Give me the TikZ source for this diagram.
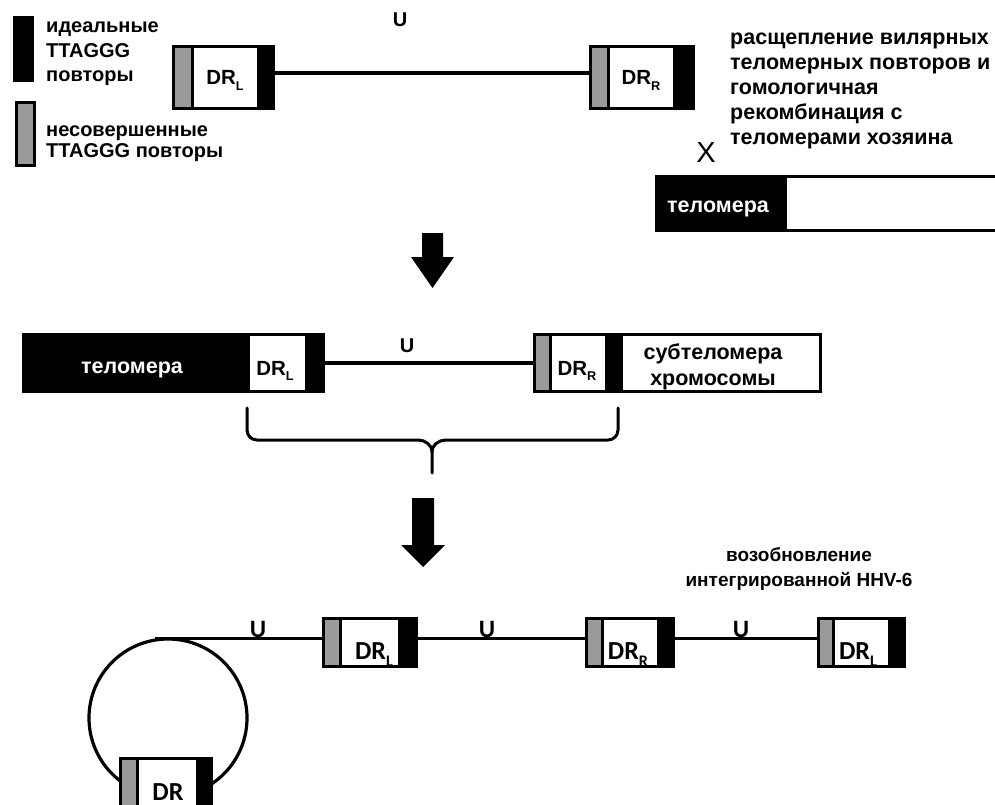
\documentclass[tikz,border=0pt]{standalone}
\usepackage{fontspec}
\usepackage{graphicx}
\setmainfont{Liberation Sans}
\newfontfamily\carl{Carlito}
\definecolor{greyc}{RGB}{154,154,154}
\newcommand\sbx[1]{\raisebox{-0.28em}{\scalebox{0.62}{#1}}}
\newcommand\drbox[7]{%
  \fill[white] ({#2+1.5},{#6+1.5}) rectangle ({#5-1.5},{#7-1.5});
  \fill[greyc] ({#2+1.5},{#6+1.5}) rectangle (#3,{#7-1.5});
  \fill[black] (#4,{#6+1.5}) rectangle ({#5-1.5},{#7-1.5});
  \draw[seg] (#3,{#6+1.5}) -- (#3,{#7-1.5});
  \node[dr box, minimum width={(#5-#2-3)*1pt}, minimum height={(#7-#6-3)*1pt}, anchor=north west] (#1) at ({#2+1.5},{#6+1.5}) {};}
\tikzset{
  wire/.style={line width=3.2pt},
  seg/.style={line width=3pt},
  dr box/.style={draw, line width=3pt, inner sep=0pt, outer sep=0pt},
  lbl/.style={font=\fontsize{20}{24}\selectfont\bfseries, inner sep=0pt, anchor=base west},
  txt/.style={font=\fontsize{21.5}{25}\selectfont\bfseries, inner sep=0pt, anchor=base west},
  ctxt/.style={font=\fontsize{21.5}{25}\selectfont\bfseries, inner sep=0pt, anchor=base},
  rtxt/.style={font=\fontsize{19}{25}\selectfont\bfseries, inner sep=0pt, anchor=base},
  wtxt/.style={ctxt, text=white},
  drl/.style={font=\fontsize{20.5}{20}\selectfont\bfseries, inner sep=0pt, anchor=base},
  drc/.style={font=\carl\bfseries\fontsize{26}{26}\selectfont, inner sep=0pt, anchor=base},
  ua/.style={font=\fontsize{20}{20}\selectfont\bfseries, inner sep=0pt, anchor=base},
  uc/.style={font=\carl\bfseries\fontsize{25}{25}\selectfont, inner sep=0pt, anchor=base},
  xl/.style={font=\fontsize{29}{29}\selectfont, inner sep=0pt, anchor=base},
  brace line/.style={line width=3pt, line cap=round, line join=round},
}
\begin{document}
\begin{tikzpicture}[x=1pt,y=-1pt]
\useasboundingbox (0,0) rectangle (995,805);
\clip (0,0) rectangle (995,805);
\fill[white] (0,0) rectangle (995,805);

% legend
\node[fill=black, minimum width=21pt, minimum height=66pt, inner sep=0pt, anchor=north west] (legblack) at (13,16) {};
\node[fill=greyc, draw, line width=3pt, minimum width=18pt, minimum height=63pt, inner sep=0pt, anchor=north west] (leggrey) at (14.5,101.5) {};
\node[lbl] (leg1a) at (46,33) {идеальные};
\node[lbl] (leg1b) at (46,58) {TTAGGG};
\node[lbl] (leg1c) at (46,82) {повторы};
\node[lbl] (leg2a) at (46,137) {несовершенные};
\node[lbl] (leg2b) at (46,158) {TTAGGG повторы};

% top row
\drbox{t1}{172}{192}{257}{275}{45}{110}
\drbox{t2}{589}{608}{673}{695}{45}{110}
\draw[wire] ([yshift=4.5pt]t1.east) -- ([yshift=4.5pt]t2.west);
\node[drl] (t1l) at (225,85) {DR\sbx{L}};
\node[drl] (t2l) at (641,85) {DR\sbx{R}};
\node[ua] (u1) at (400,27) {U};

% right text
\node[txt] (rt1) at (730,45) {расщепление вилярных};
\node[txt] (rt2) at (730,70) {теломерных повторов и};
\node[txt] (rt3) at (730,95) {гомологичная};
\node[txt] (rt4) at (730,120) {рекомбинация с};
\node[txt] (rt5) at (730,145) {теломерами хозяина};
\node[xl] (xmark) at (706,163) {X};

% host telomere
\fill[black] (656.5,176.5) rectangle (787,230.5);
\node[dr box, minimum width=360pt, minimum height=54pt, anchor=north west] (tel1) at (656.5,176.5) {};
\node[wtxt] (tel1t) at (718,212) {теломера};

% arrow 1
\fill[black] (422,233) -- (443,233) -- (443,257) -- (454,257) -- (432.5,288) -- (411,257) -- (422,257) -- cycle;

% middle row
\node[dr box, fill=black, minimum width=300pt, minimum height=57pt, anchor=north west] (tel2) at (23.5,334.5) {};
\node[fill=white, minimum width=55pt, minimum height=54pt, inner sep=0pt] (drl2) at (277.5,363) {};
\node[wtxt] (tel2t) at (132,373) {теломера};
\node[drl] (drl2t) at (275,375) {DR\sbx{L}};

\fill[greyc] (534.5,334.5) rectangle (550,391.5);
\fill[black] (605,334.5) rectangle (623,391.5);
\draw[seg] (550,334.5) -- (550,391.5);
\node[dr box, minimum width=286pt, minimum height=57pt, anchor=north west] (sub) at (534.5,334.5) {};
\node[drl] (drr2t) at (577,375) {DR\sbx{R}};
\node[ctxt] (subt1) at (713,359) {субтеломера};
\node[ctxt] (subt2) at (713,385) {хромосомы};
\draw[wire] (tel2.east) -- (sub.west);
\node[ua] (u2) at (407,352) {U};

% brace
\draw[brace line] (247,408) -- (247,430) to[out=-90,in=180] (257,440) -- (418,440) to[out=0,in=90] (432,452) -- (432,473);
\draw[brace line] (618,408) -- (618,430) to[out=-90,in=0] (608,440) -- (446,440) to[out=180,in=90] (432,452);

% arrow 2
\fill[black] (412,498) -- (434,498) -- (434,545) -- (445,545) -- (423,567) -- (401,545) -- (412,545) -- cycle;

\node[rtxt] (res1) at (799,561) {возобновление};
\node[rtxt] (res2) at (799,586) {интегрированной HHV-6};

% bottom row
\coordinate (lstart) at (155,638.5);
\node[circle, draw, line width=3.2pt, minimum size=158pt, inner sep=0pt] (loop) at (168,718) {};
\drbox{b1}{322}{340}{398}{418}{617}{668}
\drbox{b2}{585}{602}{657}{675}{617}{668}
\drbox{b3}{817}{833}{888}{906}{617}{668}
\drbox{b0}{119}{137}{196}{213}{757}{840}
\draw[wire] (lstart) -- ([yshift=4pt]b1.west);
\draw[wire] ([yshift=4pt]b1.east) -- ([yshift=4pt]b2.west);
\draw[wire] ([yshift=4pt]b2.east) -- ([yshift=4pt]b3.west);
\node[drc] (b1l) at (374,659) {DR\sbx{L}};
\node[drc] (b2l) at (628,659) {DR\sbx{R}};
\node[drc] (b3l) at (858,659) {DR\sbx{L}};
\node[drc] (b0l) at (168,800) {DR};
\node[uc] (u3) at (258,637) {U};
\node[uc] (u4) at (487,637) {U};
\node[uc] (u5) at (741,637) {U};
\end{tikzpicture}
\end{document}
